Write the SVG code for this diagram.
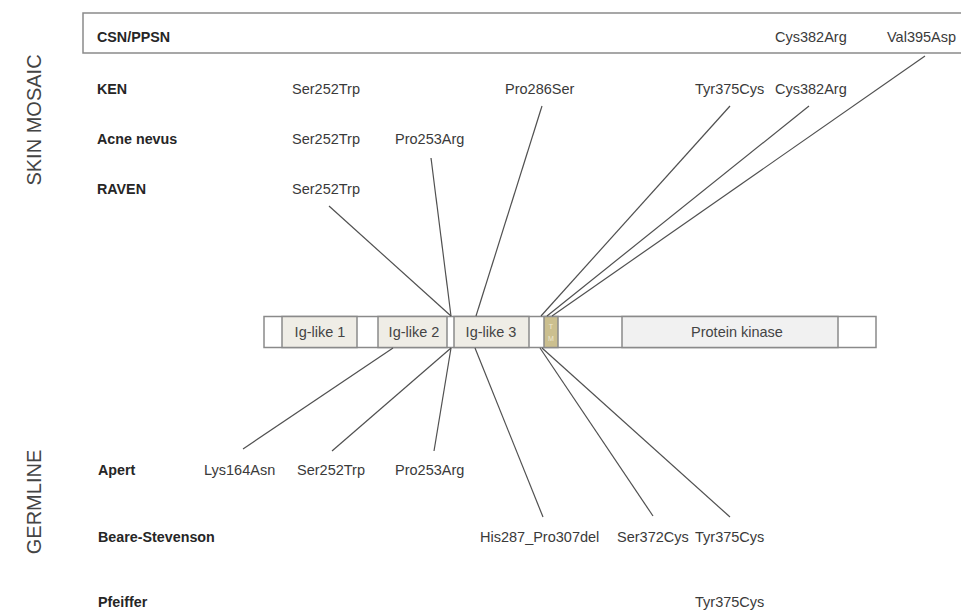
<svg xmlns="http://www.w3.org/2000/svg" width="961" height="610" viewBox="0 0 961 610">
<style>
.lbl{font-family:"Liberation Sans",Arial,sans-serif;font-weight:bold;font-size:14.3px;fill:#262626}
.mut{font-family:"Liberation Sans",Arial,sans-serif;font-size:14.5px;fill:#3a3a3a}
.side{font-family:"Liberation Sans",Arial,sans-serif;font-size:20px;fill:#444}
.dom{font-family:"Liberation Sans",Arial,sans-serif;font-size:14.5px;fill:#444;text-anchor:middle}
.seg{stroke:#8a8a8a;stroke-width:1.5}
.ig{fill:#efede6}
.wh{fill:#fff}
.pk{fill:#f1f1f1}
.tm{fill:#cbbf8f}
.con line{stroke:#505050;stroke-width:1.2}
</style>
<rect width="961" height="610" fill="#fff"/>
<g id="side-labels">
<text class="side" transform="translate(41,120) rotate(-90)" text-anchor="middle">SKIN MOSAIC</text>
<text class="side" transform="translate(41,502) rotate(-90)" text-anchor="middle">GERMLINE</text>
</g>
<g id="csn-box">
<rect x="83" y="13" width="900" height="40" fill="none" stroke="#8a8a8a" stroke-width="1.5"/>
<text class="lbl" x="97" y="42">CSN/PPSN</text>
<text class="mut" x="775" y="42">Cys382Arg</text>
<text class="mut" x="887" y="42">Val395Asp</text>
</g>
<g id="ken">
<text class="lbl" x="97" y="94">KEN</text>
<text class="mut" x="292" y="94">Ser252Trp</text>
<text class="mut" x="505" y="94">Pro286Ser</text>
<text class="mut" x="695" y="94">Tyr375Cys</text>
<text class="mut" x="775" y="94">Cys382Arg</text>
</g>
<g id="acne-nevus">
<text class="lbl" x="97" y="144">Acne nevus</text>
<text class="mut" x="292" y="144">Ser252Trp</text>
<text class="mut" x="395" y="144">Pro253Arg</text>
</g>
<g id="raven">
<text class="lbl" x="97" y="194">RAVEN</text>
<text class="mut" x="292" y="194">Ser252Trp</text>
</g>
<g id="protein">
<rect class="seg wh" x="264" y="316.5" width="612" height="31"/>
<rect class="seg ig" x="282" y="316.5" width="75" height="31"/>
<rect class="seg ig" x="378" y="316.5" width="69" height="31"/>
<rect class="seg ig" x="454" y="316.5" width="75" height="31"/>
<rect class="seg tm" x="544" y="316.5" width="14" height="31"/>
<rect class="seg pk" x="622" y="316.5" width="216" height="31"/>
<text class="dom" x="320" y="337">Ig-like 1</text>
<text class="dom" x="414" y="337">Ig-like 2</text>
<text class="dom" x="491" y="337">Ig-like 3</text>
<text class="dom" x="737" y="337">Protein kinase</text>
<text x="551" y="329" text-anchor="middle" font-family="Liberation Sans, Arial, sans-serif" font-size="7" fill="#efe9cf">T</text>
<text x="551" y="341" text-anchor="middle" font-family="Liberation Sans, Arial, sans-serif" font-size="7" fill="#efe9cf">M</text>
</g>
<g id="apert">
<text class="lbl" x="98" y="475">Apert</text>
<text class="mut" x="204" y="475">Lys164Asn</text>
<text class="mut" x="297" y="475">Ser252Trp</text>
<text class="mut" x="395" y="475">Pro253Arg</text>
</g>
<g id="beare-stevenson">
<text class="lbl" x="98" y="542">Beare-Stevenson</text>
<text class="mut" x="480" y="542">His287_Pro307del</text>
<text class="mut" x="617" y="542">Ser372Cys</text>
<text class="mut" x="695" y="542">Tyr375Cys</text>
</g>
<g id="pfeiffer">
<text class="lbl" x="98" y="607">Pfeiffer</text>
<text class="mut" x="695" y="607">Tyr375Cys</text>
</g>
<g id="connectors" class="con">
<line x1="329" y1="206" x2="451" y2="316"/>
<line x1="431" y1="158" x2="451" y2="316"/>
<line x1="542" y1="106" x2="476" y2="316"/>
<line x1="730" y1="106" x2="541" y2="316"/>
<line x1="809" y1="106" x2="547" y2="316"/>
<line x1="925" y1="56" x2="552" y2="316"/>
<line x1="393" y1="348" x2="243" y2="449"/>
<line x1="451" y1="348" x2="332" y2="451"/>
<line x1="451" y1="348" x2="434" y2="451"/>
<line x1="475" y1="348" x2="543" y2="517"/>
<line x1="540" y1="348" x2="653" y2="516"/>
<line x1="542" y1="348" x2="730" y2="517"/>
</g>
</svg>
